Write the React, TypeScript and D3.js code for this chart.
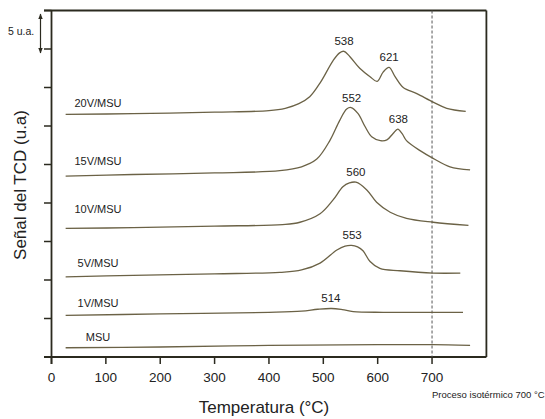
import React from "react";
import * as d3 from "d3";

// temperature (°C), TCD signal (u.a.)
const msu = [[26, 1.2], [200, 1.3], [400, 1.5], [600, 1.6], [702, 1.6], [770, 1.5]];
const v1 = [[26, 5.4], [200, 5.6], [400, 5.8], [460, 5.95], [490, 6.2], [515, 6.3], [535, 6.15], [555, 5.9], [610, 5.8], [702, 5.8], [757, 5.8]];
const v5 = [[26, 10.4], [150, 10.6], [300, 10.8], [420, 11.0], [460, 11.3], [494, 12.2], [525, 13.9], [540, 14.4], [552, 14.5], [563, 14.3], [573, 13.8], [586, 12.4], [604, 11.5], [641, 11.2], [702, 10.9], [752, 10.9]];
const v10 = [[26, 16.7], [150, 16.8], [300, 17.0], [425, 17.2], [457, 17.5], [494, 18.6], [518, 20.4], [536, 22.1], [548, 22.6], [560, 22.7], [580, 21.7], [598, 20.1], [623, 18.8], [653, 18.0], [702, 17.5], [767, 17.1]];
const v15 = [[26, 23.5], [150, 23.7], [300, 23.9], [420, 24.2], [460, 24.7], [488, 25.7], [512, 28.1], [530, 30.7], [543, 32.2], [551, 32.4], [564, 31.6], [577, 29.9], [589, 28.6], [605, 28.1], [617, 28.2], [628, 29.0], [637, 29.6], [645, 29.0], [653, 28.1], [678, 26.8], [702, 25.8], [733, 24.7], [770, 24.3]];
const v20 = [[26, 31.5], [150, 31.6], [300, 31.8], [400, 32.0], [430, 32.3], [455, 32.9], [475, 33.8], [495, 35.7], [518, 38.5], [530, 39.5], [538, 39.7], [549, 39.0], [567, 37.5], [586, 36.4], [599, 35.8], [610, 37.0], [621, 37.6], [632, 36.4], [647, 35.0], [672, 34.2], [702, 33.1], [727, 32.3], [762, 31.9]];

const seriesNames = ["20V/MSU", "15V/MSU", "10V/MSU", "5V/MSU", "1V/MSU", "MSU"];
const seriesData = [v20, v15, v10, v5, v1, msu];
// peak labels: [series index, temperature]
const peaks = [[0, 538], [0, 621], [1, 552], [1, 638], [2, 560], [3, 553], [4, 514]];
const xTicks = [0, 100, 200, 300, 400, 500, 600, 700];
const yTicks = [0, 5, 10, 15, 20, 25, 30, 35, 40, 45];

const W = 545, H = 419;
const labelLift = [7, 11, 15, 10, 8, 7];
const axisColor = "#2b2a1f";
const lineColor = "#6b6246";
const font = "'Liberation Sans', Arial, sans-serif";

export default function App() {
  const x = d3.scaleLinear().domain([0, 800]).range([51.5, 486.4]);
  const y = d3.scaleLinear().domain([0, 45]).range([357, 10.5]);
  const line = d3
    .line<number[]>()
    .x((d) => x(d[0]))
    .y((d) => y(d[1]))
    .curve(d3.curveCatmullRom.alpha(0.5));

  const nearest = (s: number[][], t: number) =>
    s.reduce((a, b) => (Math.abs(b[0] - t) < Math.abs(a[0] - t) ? b : a));

  return (
    <svg width={W} height={H} style={{ position: "absolute", left: 0, top: 0, background: "#fff" }}>
      {/* scale bar */}
      <defs>
        <marker id="ah" viewBox="0 0 10 10" refX="9" refY="5" markerWidth="5" markerHeight="5" orient="auto-start-reverse">
          <path d="M0,1 L10,5 L0,9 z" fill={axisColor} />
        </marker>
      </defs>
      <line x1={40.5} x2={40.5} y1={14} y2={53} stroke={axisColor} strokeWidth={1.2}
        markerStart="url(#ah)" markerEnd="url(#ah)" />
      <text x={8} y={35} fontSize={10.5} fontFamily={font} fill="#222">5 u.a.</text>

      {/* frame */}
      <line x1={44} x2={x(800)} y1={y(45)} y2={y(45)} stroke={axisColor} strokeWidth={1.8} />
      <line x1={x(800)} x2={x(800)} y1={y(45)} y2={y(0)} stroke={axisColor} strokeWidth={1.8} />
      <line x1={44} x2={x(800)} y1={y(0)} y2={y(0)} stroke={axisColor} strokeWidth={1.8} />
      <line x1={x(0)} x2={x(0)} y1={y(45)} y2={y(0) + 7} stroke={axisColor} strokeWidth={1.8} />
      {yTicks.map((t) => (
        <line key={t} x1={44} x2={x(0)} y1={y(t)} y2={y(t)} stroke={axisColor} strokeWidth={1.5} />
      ))}
      {xTicks.map((t) => (
        <g key={t}>
          <line x1={x(t)} x2={x(t)} y1={y(0)} y2={y(0) + 7} stroke={axisColor} strokeWidth={1.5} />
          <text x={x(t)} y={382} textAnchor="middle" fontSize={13.5} fontFamily={font} fill="#222">{t}</text>
        </g>
      ))}

      {/* isothermal line */}
      <line x1={x(700)} x2={x(700)} y1={y(45)} y2={y(0)} stroke="#555" strokeWidth={1} strokeDasharray="3,2" />

      {seriesData.map((s, i) => (
        <g key={seriesNames[i]}>
          <path d={line(s) || ""} fill="none" stroke={lineColor} strokeWidth={1.3} />
          <text x={98} y={y(s[0][1]) - labelLift[i]} textAnchor="middle" fontSize={11} fontFamily={font} fill="#222">
            {seriesNames[i]}
          </text>
        </g>
      ))}

      {peaks.map(([si, t]) => (
        <text key={`${si}-${t}`} x={x(t)} y={y(nearest(seriesData[si], t)[1]) - 6} textAnchor="middle"
          fontSize={11.5} fontFamily={font} fill="#222">{t}</text>
      ))}

      <text x={x(700)} y={398} fontSize={9.5} fontFamily={font} fill="#222">Proceso isotérmico 700 °C</text>
      <text x={264} y={413} textAnchor="middle" fontSize={17} fontFamily={font} fill="#222">Temperatura (°C)</text>
      <text transform="translate(26,185) rotate(-90)" textAnchor="middle" fontSize={17} fontFamily={font} fill="#222">
        Señal del TCD (u.a)
      </text>
    </svg>
  );
}
